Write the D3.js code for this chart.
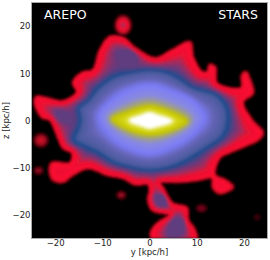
<!DOCTYPE html>
<html>
<head>
<meta charset="utf-8">
<script src="https://cdn.jsdelivr.net/npm/d3@7"></script>
<style>
body { margin: 0; background: #fff; }
text { font-family: "DejaVu Sans", sans-serif; }
</style>
</head>
<body>
<script>
//axis ticks, in kpc/h
const yTicks = [-20, -10, 0, 10, 20];
const zTicks = [-20, -10, 0, 10, 20];

//iso-density outlines, as [y, z] in kpc/h
const outerEdge = [[-24, 5], [-22.1, 4.8], [-18.3, 4.1], [-15.4, 6], [-16.2, 8.1], [-14.3, 10.1], [-12, 10.7], [-10.5, 14.9], [-8.4, 17.7], [-5.6, 17.5], [-3.1, 15.4], [1.2, 13.2], [4.8, 14.9], [8.6, 16.6], [9.2, 13.5], [11.1, 10.3], [12.2, 10.3], [12.8, 11.8], [13.9, 11.3], [14.3, 7.9], [19.4, 6.9], [19.6, 9.6], [20.4, 10.3], [21.3, 8.6], [21.9, 5.8], [19.8, 3.9], [21.7, 0.1], [24, -2.6], [23, -4.1], [20.2, -5.4], [17.1, -6.7], [14.9, -7.9], [13.9, -11.5], [16, -12.6], [17.7, -14.1], [14.9, -15.4], [13.5, -14.3], [13.2, -12.2], [10.3, -12.6], [6.5, -13], [2.2, -13.2], [2.9, -14.3], [4.8, -17.5], [5.8, -17.9], [7.9, -18.5], [8.2, -21.1], [9.6, -23.2], [9.9, -26], [1.2, -26], [0.3, -23.8], [1.8, -21.7], [4.3, -20], [2.9, -19.6], [0.7, -19], [-0.3, -16.8], [0.1, -14.7], [-0.3, -13.5], [-3.1, -13.5], [-5.6, -12.2], [-9, -11.5], [-13, -10.1], [-16.2, -11.5], [-18.3, -13], [-20.4, -12.6], [-21.1, -10.9], [-20.7, -9], [-16.8, -9], [-16.4, -6.9], [-18.3, -5.8], [-19.4, -3.5], [-21.1, 0.1], [-22.8, 0.7], [-24.3, 3.7]];
const blueRing = [[-14.7, 0.3], [-15.1, 2.6], [-13, 4.3], [-10.9, 6.9], [-7.7, 9.2], [-3.5, 10.3], [0.1, 10.7], [3.3, 10.3], [6, 9], [9.2, 6.9], [14.3, 5.4], [16.4, 2.6], [16.6, -0.5], [15.4, -3.5], [11.3, -6.3], [7.1, -8.8], [3.7, -10.1], [0.1, -10.5], [-4.1, -9.9], [-7.7, -8.8], [-11.1, -6.7], [-15.8, -4.6], [-16.2, -3.7], [-15.1, -1.4]];
const periwinkle = [[-10.6, 1], [-7, 5], [-3, 7], [0.5, 7.5], [4, 6.5], [9, 4.3], [11.5, 0.5], [9, -3], [5, -5.5], [0, -7], [-4, -6], [-8, -3.5]];
const yellowCore = [[-8, 0.3], [-4, 2.1], [0, 3.1], [4, 2.1], [8, -0.2], [4, -2.4], [0, -3], [-4, -2.2]];
const whiteCore = [[-4, 0], [-1.5, 1], [0, 1.5], [1.5, 1], [4.5, -0.1], [1.5, -1.1], [0, -1.5], [-1.5, -1]];

//purple interiors of the arms
const armUpper = [[-7, 14.5], [-4.5, 15], [-2.5, 13], [-3, 11.5], [-6, 12]];
const armLeft = [[-20, 2], [-17, 1.5], [-16.5, -0.5], [-19, 0]];
const armBlobA = [[1.2, -15.8], [3, -16], [3.6, -18], [1.8, -18]];
const armBlobB = [[4, -22.5], [5.5, -20.5], [7, -21], [7, -24], [4, -24.5]];

//isolated clumps: y, z, radius in y, radius in z, peak density level
const clumpY = [-5.6, -23, -23.5, 11, 22.8, -6];
const clumpZ = [20.2, -4.2, -10.6, -18.6, -20.5, -15.8];
const clumpRy = [2, 1.8, 1.2, 1.4, 0.9, 1.2];
const clumpRz = [2.4, 1.7, 1, 1, 0.9, 1];
const clumpPeak = [0.5, 0.02, -0.3, -0.4, -0.7, -0.25];

//colour map: density level -> colour (outer edge = 0, blue ring = 1, periwinkle = 2, yellow = 3, white = 4)
const levelStops = [-1, 0, 0.08, 0.35, 0.5, 0.72, 0.92, 1.03, 1.15, 1.6, 2, 2.5, 2.8, 3, 3.6, 3.85, 4];
const levelColors = ["#000000", "#d00c28", "#ff1030", "#e81232", "#a82a5a", "#683a7c", "#2a4a8c", "#1c4c8e", "#4a5a9c", "#6464b4", "#7c7cf8", "#8a8ae0", "#a0a080", "#c0c000", "#dcdc20", "#f0f0a0", "#ffffff"];

const margin = { top: 2.5, left: 31.5 };
const size = 236;

const svg = d3.select("body").append("svg")
    .attr("width", 270)
    .attr("height", 260);

const x = d3.scaleLinear().domain([-25, 25]).range([margin.left, margin.left + size]);
const y = d3.scaleLinear().domain([-25, 25]).range([margin.top + size, margin.top]);
const color = d3.scaleLinear().domain(levelStops).range(levelColors).clamp(true);

const line = d3.line()
    .x(d => x(d[0]))
    .y(d => y(d[1]))
    .curve(d3.curveCatmullRomClosed.alpha(0.5));

//turn an outline into a dense list of pixel points along the smooth curve
function sample(points) {
    const p = svg.append("path").attr("d", line(points)).attr("fill", "none");
    const node = p.node();
    const len = node.getTotalLength();
    const out = [];
    for (let s = 0; s < len; s += 2) {
        const pt = node.getPointAtLength(s);
        out.push([pt.x, pt.y]);
    }
    p.remove();
    return out;
}

const outerPts = sample(outerEdge);
const ringPts = sample(blueRing);
const periPts = sample(periwinkle);
const yellowPts = sample(yellowCore);
const whitePts = sample(whiteCore);
const armPolys = [armUpper, armLeft, armBlobA, armBlobB].map(sample);
const armPts = armPolys.flat();

function dist(px, py, pts) {
    let best = Infinity;
    for (let i = 0; i < pts.length; i++) {
        const dx = pts[i][0] - px, dy = pts[i][1] - py;
        const d = dx * dx + dy * dy;
        if (d < best) best = d;
    }
    return Math.sqrt(best) + 0.01;
}

function levelAt(px, py) {
    const p = [px, py];
    let u;
    if (d3.polygonContains(whitePts, p)) {
        u = 4;
    } else if (d3.polygonContains(yellowPts, p)) {
        const a = dist(px, py, yellowPts), b = dist(px, py, whitePts);
        u = 3 + a / (a + b);
    } else if (d3.polygonContains(periPts, p)) {
        const a = dist(px, py, periPts), b = dist(px, py, yellowPts);
        u = 2 + a / (a + b);
    } else if (d3.polygonContains(ringPts, p)) {
        const a = dist(px, py, ringPts), b = dist(px, py, periPts);
        u = 1 + a / (a + b);
    } else if (d3.polygonContains(outerPts, p)) {
        if (armPolys.some(a => d3.polygonContains(a, p))) {
            u = 0.75;
        } else {
            //weighted by inverse distance, so the arms pull the level down smoothly
            const a = 1 / dist(px, py, outerPts), b = 1 / dist(px, py, ringPts), c = 1 / dist(px, py, armPts);
            u = (b + 0.75 * c) / (a + b + c);
        }
    } else {
        u = -dist(px, py, outerPts) / 2.2;
    }
    //clumps sit on top of the black background
    clumpY.forEach(function (c, i) {
        const ex = (px - x(c)) / (x(clumpRy[i]) - x(0));
        const ey = (py - y(clumpZ[i])) / (y(0) - y(clumpRz[i]));
        const r2 = ex * ex + ey * ey;
        if (r2 < 1) u = Math.max(u, -1 + (1 - r2) * (1 + clumpPeak[i]));
    });
    return u;
}

//paint the density map pixel by pixel
const canvas = document.createElement("canvas");
canvas.width = size;
canvas.height = size;
const ctx = canvas.getContext("2d");
const img = ctx.createImageData(size, size);
for (let j = 0; j < size; j++) {
    for (let i = 0; i < size; i++) {
        const c = d3.rgb(color(levelAt(margin.left + i + 0.5, margin.top + j + 0.5)));
        const k = (j * size + i) * 4;
        img.data[k] = c.r;
        img.data[k + 1] = c.g;
        img.data[k + 2] = c.b;
        img.data[k + 3] = 255;
    }
}
ctx.putImageData(img, 0, 0);

const defs = svg.append("defs");
defs.append("clipPath").attr("id", "plotClip")
    .append("rect")
    .attr("x", margin.left).attr("y", margin.top)
    .attr("width", size).attr("height", size);
defs.append("filter").attr("id", "soft")
    .attr("filterUnits", "userSpaceOnUse")
    .attr("x", 0).attr("y", 0).attr("width", 270).attr("height", 260)
    .append("feGaussianBlur").attr("stdDeviation", 0.8);

const plot = svg.append("g").attr("clip-path", "url(#plotClip)");
plot.append("rect")
    .attr("x", margin.left).attr("y", margin.top)
    .attr("width", size).attr("height", size)
    .attr("fill", "#000");
plot.append("image")
    .attr("x", margin.left).attr("y", margin.top)
    .attr("width", size).attr("height", size)
    .attr("href", canvas.toDataURL())
    .attr("filter", "url(#soft)");

//frame
svg.append("rect")
    .attr("x", margin.left).attr("y", margin.top)
    .attr("width", size).attr("height", size)
    .attr("fill", "none")
    .attr("stroke", "#aaa");

const xAxis = d3.axisBottom(x).tickValues(yTicks).tickSize(0).tickPadding(1)
    .tickFormat(d => String(d).replace("-", "\u2212"));
const yAxis = d3.axisLeft(y).tickValues(zTicks).tickSize(0).tickPadding(1)
    .tickFormat(d => String(d).replace("-", "\u2212"));

const gx = svg.append("g").attr("transform", "translate(0," + (margin.top + size) + ")").call(xAxis);
const gy = svg.append("g").attr("transform", "translate(" + margin.left + ",0)").call(yAxis);
[gx, gy].forEach(function (g) {
    g.select(".domain").remove();
    g.selectAll("text").attr("font-size", 8.5).attr("fill", "#222").attr("font-family", "DejaVu Sans");
});

svg.append("text")
    .attr("x", 149.5).attr("y", 255)
    .attr("text-anchor", "middle")
    .attr("font-size", 8.5).attr("fill", "#222")
    .text("y [kpc/h]");

svg.append("text")
    .attr("transform", "translate(9,120.5) rotate(-90)")
    .attr("text-anchor", "middle")
    .attr("font-size", 8.5).attr("fill", "#222")
    .text("z [kpc/h]");

svg.append("text")
    .attr("x", 44).attr("y", 18.5)
    .attr("font-size", 12.5).attr("fill", "#fff")
    .text("AREPO");

svg.append("text")
    .attr("x", 258).attr("y", 18.5)
    .attr("text-anchor", "end")
    .attr("font-size", 12.5).attr("fill", "#fff")
    .text("STARS");
</script>
</body>
</html>
